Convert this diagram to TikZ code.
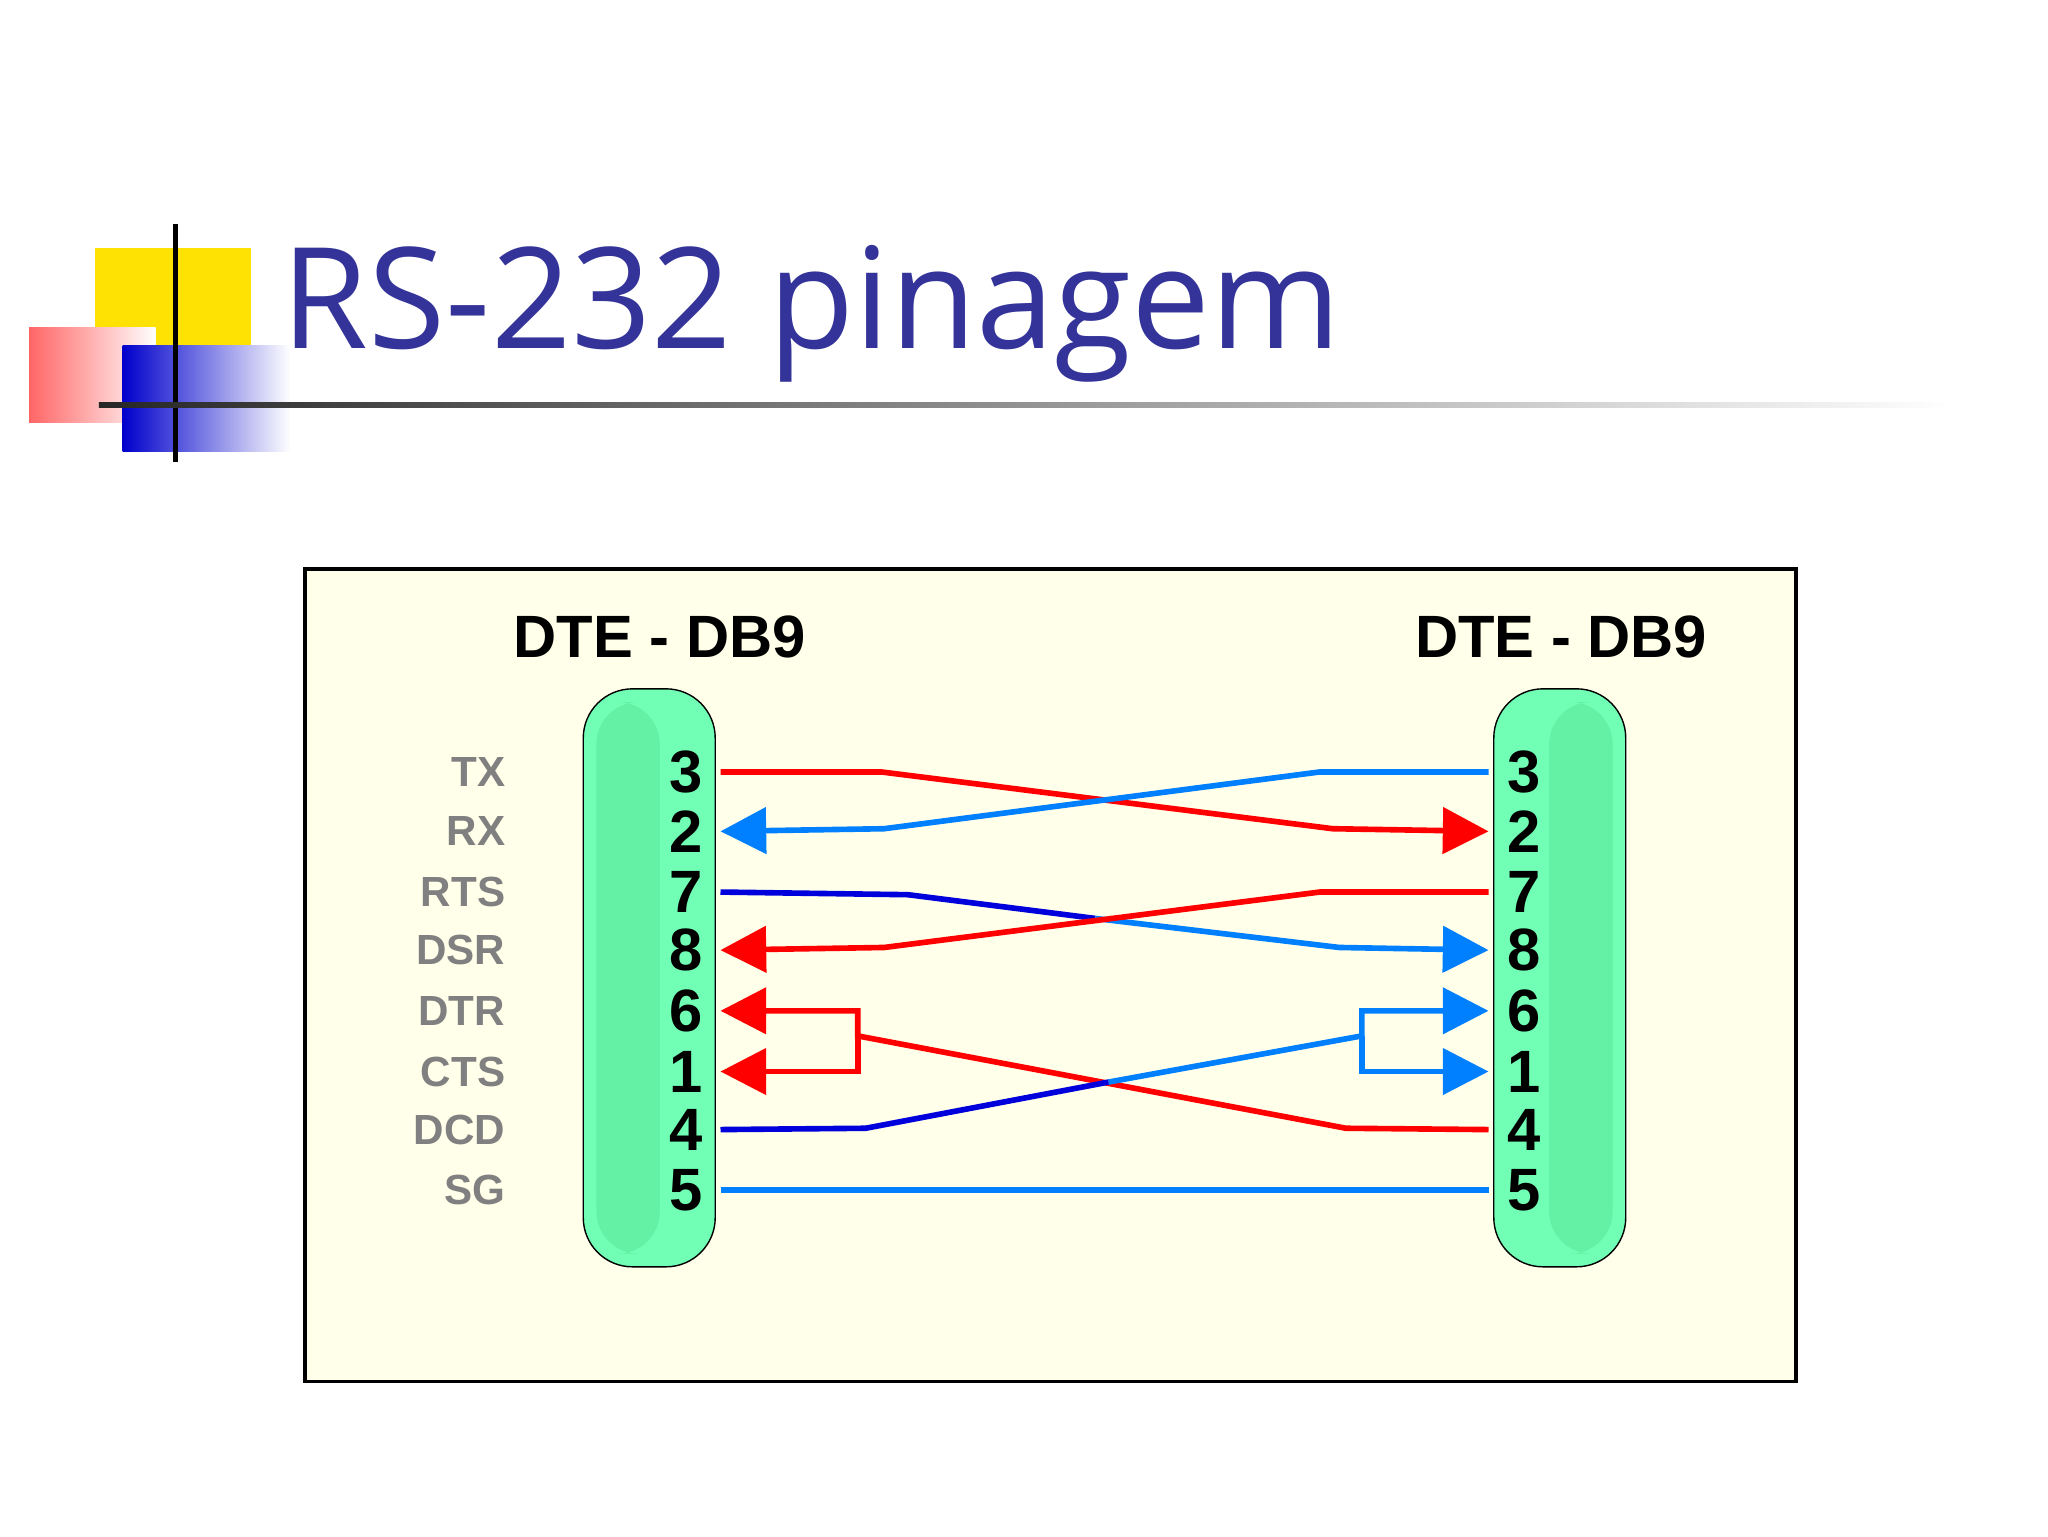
\documentclass[tikz,border=0pt]{standalone}
\usepackage{fontspec}
\setmainfont{Liberation Sans}
\newfontfamily\titlefont{Open Sans}
\usetikzlibrary{positioning}
\usetikzlibrary{arrows.meta}
\definecolor{titleblue}{RGB}{51,51,153}
\definecolor{paper}{RGB}{255,255,234}
\definecolor{plug}{RGB}{112,255,180}
\definecolor{plugin}{RGB}{100,240,165}
\definecolor{wred}{RGB}{255,0,0}
\definecolor{wblue}{RGB}{0,128,255}
\definecolor{wdark}{RGB}{0,0,220}
\tikzset{>={Triangle[length=13pt,width=13pt]}}
\tikzset{
  pin/.style={font=\fontsize{17}{17}\selectfont\bfseries, inner sep=1pt},
  sig/.style={font=\fontsize{12}{12}\selectfont\bfseries, text=gray, anchor=east, inner sep=1pt},
  head/.style={font=\fontsize{17}{17}\selectfont\bfseries},
  wire/.style={line width=1.6pt},
}
\begin{document}
\begin{tikzpicture}[x=0.0132cm, y=-0.0132cm]
        \useasboundingbox (0,0) rectangle (1552,1164);
        % 1. Title and corner decoration
        \fill[yellow!85!orange] (72,188) rectangle (190,262);
        \shade[left color=red!60, right color=white] (22,248) rectangle (118,320);
        \shade[left color=blue!80!black, right color=white] (93,262) rectangle (220,342);
        \draw[line width=1.6pt] (133,170) -- (133,350);
        \shade[left color=black!85, right color=white] (75,305) rectangle (1480,309);
        \node[anchor=base west, inner sep=0, text=titleblue,
              font=\titlefont\fontsize{40}{40}\selectfont] (title) at (213,264) {RS-232 pinagem};

        % 2. Frame and both connectors
        \draw[fill=paper, line width=1pt] (231,431) rectangle (1361,1047);
        \draw[fill=plug, rounded corners=14pt] (442,522) rectangle (542,960);
        \fill[plugin, rounded corners=12pt] (452,532) rectangle (500,950);
        \draw[fill=plug, rounded corners=14pt] (1132,522) rectangle (1232,960);
        \fill[plugin, rounded corners=12pt] (1174,532) rectangle (1222,950);
        \node[head] (hl) at (500,483) {DTE - DB9};
        \node[head] (hr) at (1183,483) {DTE - DB9};

        % 3. Pins and signal names
        \foreach \p/\y/\s in {3/585/TX, 2/630/RX, 7/676/RTS, 8/720/DSR,
                              6/766/DTR, 1/812/CTS, 4/856/DCD, 5/902/SG} {
          \node[pin, anchor=east] (l\p) at (536,\y) {\p};
          \node[pin, anchor=west] (r\p) at (1139,\y) {\p};
          \node[sig] (s\p) at (386,\y) {\s};
        }

        % 4. Crossed wires
        \coordinate (lx) at (546,0);
        \coordinate (rx) at (1128,0);
        \draw[wire, wred, ->] (lx |- l3) -- (668,585) -- (1010,628) -- (rx |- r2);
        \draw[wire, wblue, ->] (rx |- r3) -- (1000,585) -- (670,628) -- (lx |- l2);
        \draw[wire, wdark] (lx |- l7) -- (688,678) -- (830,696);
        \draw[wire, wblue, ->] (830,696) -- (1015,718) -- (rx |- r8);
        \draw[wire, wred, ->] (rx |- r7) -- (1000,676) -- (670,718) -- (lx |- l8);

        % 5. Looped handshake lines
        \draw[wire, wred, ->] (rx |- r4) -- (1020,855) -- (650,785) -- (650,766) -- (lx |- l6);
        \draw[wire, wred, ->] (650,785) -- (650,812) -- (lx |- l1);
        \draw[wire, wdark] (lx |- l4) -- (656,855) -- (840,820);
        \draw[wire, wblue, ->] (840,820) -- (1032,785) -- (1032,766) -- (rx |- r6);
        \draw[wire, wblue, ->] (1032,785) -- (1032,812) -- (rx |- r1);
        \draw[wire, wblue] (lx |- l5) -- (rx |- r5);
    \end{tikzpicture}
\end{document}
